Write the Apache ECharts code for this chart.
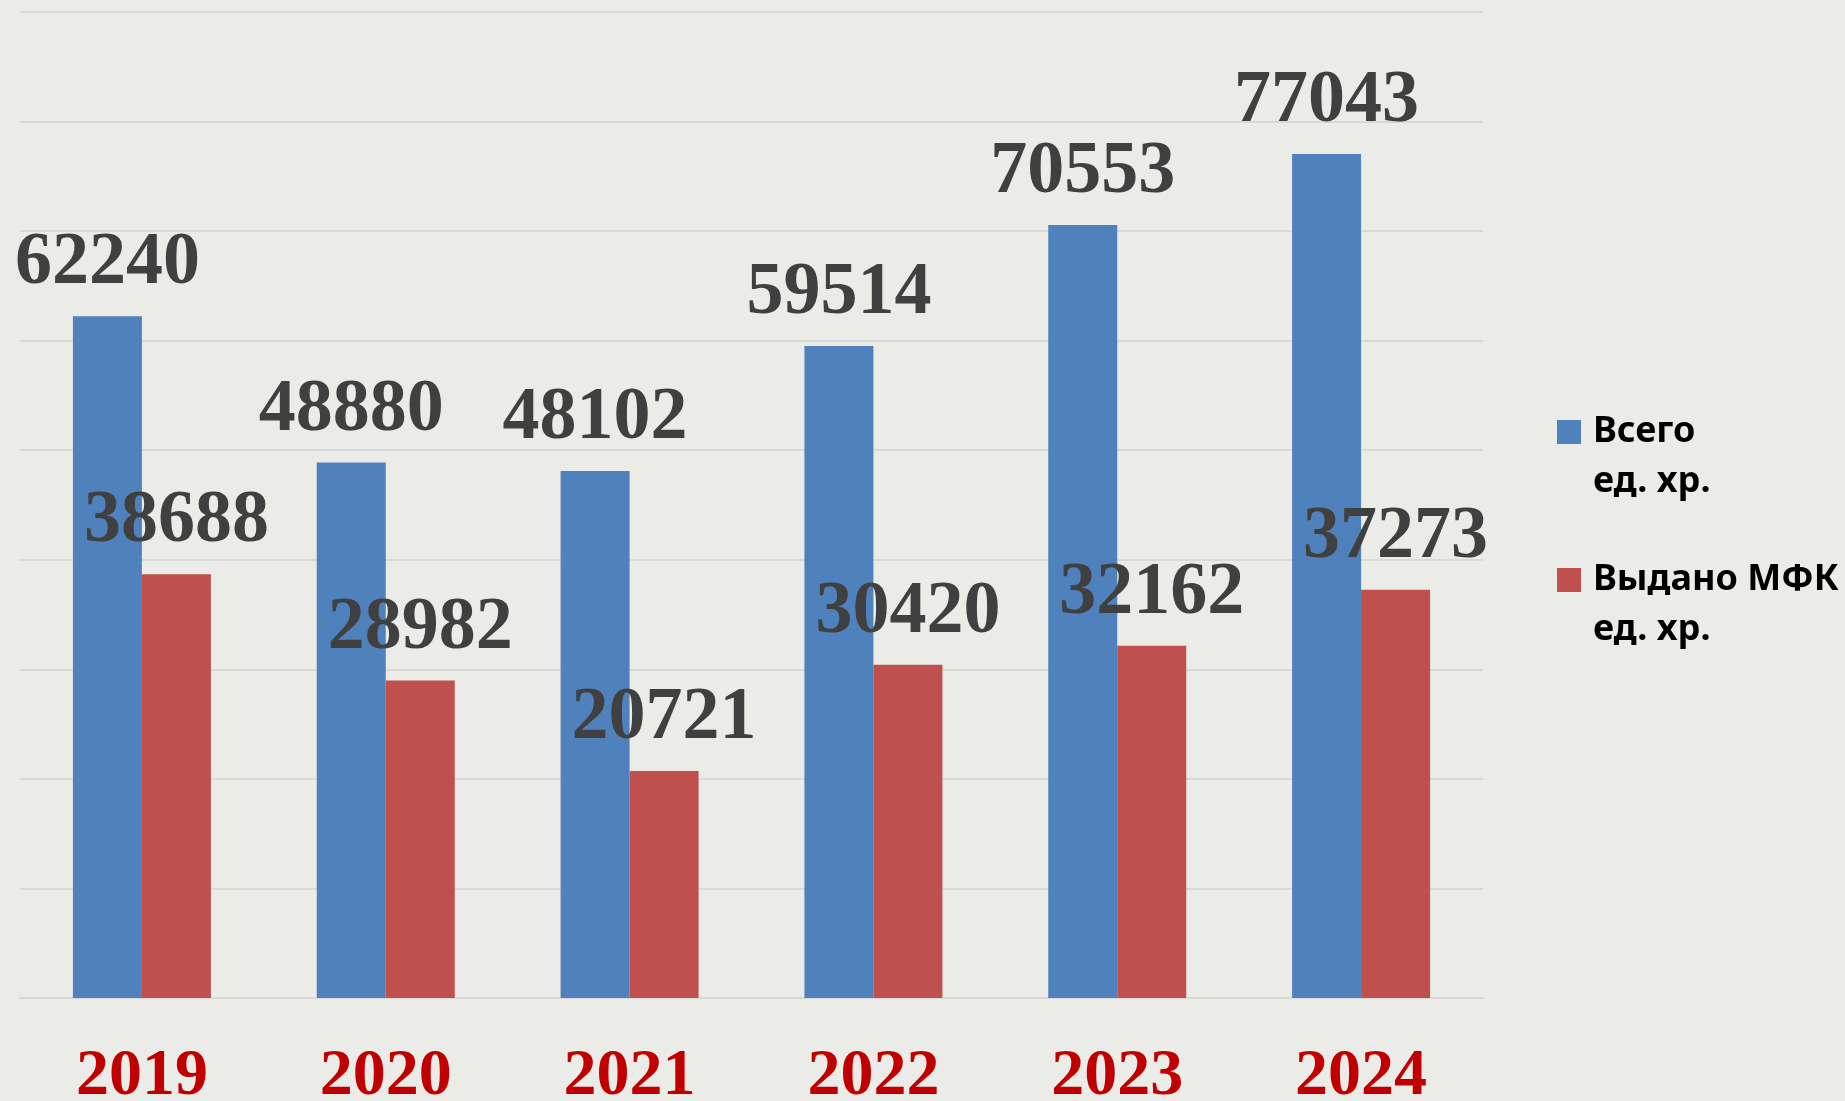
<!DOCTYPE html>
<html>
<head>
<meta charset="utf-8">
<title>Всего / Выдано МФК</title>
<script src="https://cdn.jsdelivr.net/npm/echarts@6/dist/echarts.min.js"></script>
<style>
  html, body { margin: 0; padding: 0; background: #ebebe8; }
  #chart { width: 1845px; height: 1101px; }
</style>
</head>
<body>
<div id="chart"></div>
<script>
// годы
const years = ['2019', '2020', '2021', '2022', '2023', '2024'];
// всего ед. хр.
const totalUnits = [62240, 48880, 48102, 59514, 70553, 77043];
// выдано МФК ед. хр.
const issuedUnits = [38688, 28982, 20721, 30420, 32162, 37273];

const seriesNames = ['Всего\nед. хр.', 'Выдано МФК\nед. хр.'];

const chart = echarts.init(document.getElementById('chart'), null, { renderer: 'canvas' });

// подпись над столбиком
const valueLabel = {
  show: true,
  position: 'top',
  distance: 15,
  fontSize: 74,
  fontWeight: 'bold',
  fontFamily: 'Liberation Serif',
  color: '#404040'
};

const option = {
  backgroundColor: '#ebebe8',
  animation: false,
  grid: { left: 20, right: 362, top: 12, bottom: 103, outerBoundsMode: 'none' },
  legend: {
    orient: 'vertical',
    left: 1557,
    top: 357,
    padding: 0,
    itemWidth: 24,
    itemHeight: 24,
    itemGap: -2,
    icon: 'rect',
    // пустая строка сверху, чтобы квадратик стоял против первой строки
    formatter: name => '{t|\u00a0}\n' + name.split('\n').map(s => '{t|' + s + '}').join('\n'),
    textStyle: {
      fontSize: 36,
      fontWeight: 'bold',
      fontFamily: 'Noto Sans',
      color: '#000',
      lineHeight: 50,
      rich: {
        t: {
          fontSize: 36,
          fontWeight: 'bold',
          fontFamily: 'Noto Sans',
          color: '#000',
          lineHeight: 50,
          padding: [0, 0, 0, 7]
        }
      }
    },
    data: seriesNames
  },
  xAxis: {
    type: 'category',
    data: years,
    axisTick: { show: false },
    axisLine: { lineStyle: { color: '#d9d9d9', width: 2 } },
    axisLabel: {
      margin: 46,
      fontSize: 66,
      fontWeight: 'bold',
      fontFamily: 'Liberation Serif',
      color: '#c00000'
    }
  },
  yAxis: {
    type: 'value',
    min: 0,
    max: 90000,
    interval: 10000,
    axisLabel: { show: false },
    axisLine: { show: false },
    axisTick: { show: false },
    splitLine: { lineStyle: { color: '#d9d9d9', width: 2 } }
  },
  series: [
    {
      name: seriesNames[0],
      type: 'bar',
      data: totalUnits,
      barWidth: 69,
      barGap: '0%',
      itemStyle: { color: '#4f81bd' },
      label: valueLabel
    },
    {
      name: seriesNames[1],
      type: 'bar',
      data: issuedUnits,
      barWidth: 69,
      itemStyle: { color: '#c0504d' },
      label: valueLabel
    }
  ]
};

chart.setOption(option);
</script>
</body>
</html>
